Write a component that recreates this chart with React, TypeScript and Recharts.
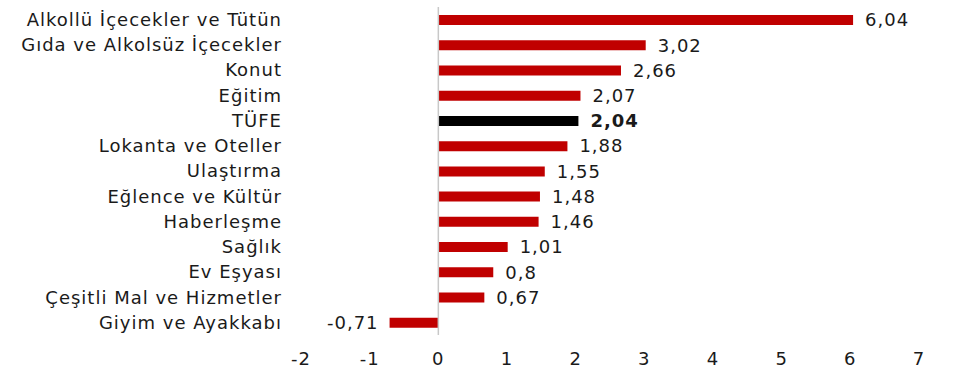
import React from "react";
import { BarChart, Bar, XAxis, YAxis, Cell, LabelList, ReferenceLine } from "recharts";

const categories = [
  "Alkollü İçecekler ve Tütün",
  "Gıda ve Alkolsüz İçecekler",
  "Konut",
  "Eğitim",
  "TÜFE",
  "Lokanta ve Oteller",
  "Ulaştırma",
  "Eğlence ve Kültür",
  "Haberleşme",
  "Sağlık",
  "Ev Eşyası",
  "Çeşitli Mal ve Hizmetler",
  "Giyim ve Ayakkabı",
];
const values = [6.04, 3.02, 2.66, 2.07, 2.04, 1.88, 1.55, 1.48, 1.46, 1.01, 0.8, 0.67, -0.71];
const xTicks = [-2, -1, 0, 1, 2, 3, 4, 5, 6, 7];
const highlight = "TÜFE";

const data = categories.map((name, i) => ({ name, value: values[i] }));

const FONT = "'DejaVu Sans', sans-serif";
const RED = "#c00000";
const BLACK = "#000000";
const TEXT = "#1a1a1a";

const fmt = (v: number) => String(v).replace(".", ",");

const ValueLabel = (props: any) => {
  const { x, y, width, height, value, index } = props;
  const x1 = Number(x);
  const x2 = Number(x) + Number(width);
  const neg = Number(value) < 0;
  const endX = neg ? Math.min(x1, x2) : Math.max(x1, x2);
  const cy = Number(y) + Number(height) / 2;
  const bold = categories[index] === highlight;
  return (
    <text
      x={neg ? endX - 11 : endX + 12}
      y={cy}
      dy="0.35em"
      textAnchor={neg ? "end" : "start"}
      fontFamily={FONT}
      fontSize={18}
      letterSpacing={1}
      fontWeight={bold ? 700 : 400}
      fill={TEXT}
    >
      {fmt(Number(value))}
    </text>
  );
};

const tickStyle = { fontFamily: FONT, fontSize: 18, fill: TEXT, letterSpacing: 1 };

export default function App() {
  return (
    <div style={{ position: "absolute", left: 0, top: 0, background: "#fff" }}>
      <BarChart
        width={960}
        height={392}
        data={data}
        layout="vertical"
        margin={{ top: 7, right: 41, bottom: 17, left: 0 }}
        barCategoryGap={0}
      >
        <XAxis
          type="number"
          domain={[-2, 7]}
          ticks={xTicks}
          axisLine={false}
          tickLine={false}
          tickSize={0}
          tickMargin={17}
          height={40}
          interval={0}
          tick={tickStyle}
        />
        <YAxis
          type="category"
          dataKey="name"
          width={301}
          axisLine={false}
          tickLine={false}
          tickSize={0}
          tickMargin={19}
          interval={0}
          tick={tickStyle}
        />
        <ReferenceLine x={0} stroke="#c8c8c8" strokeWidth={1.5} ifOverflow="extendDomain" />
        <Bar dataKey="value" barSize={10} isAnimationActive={false}>
          {data.map((d, i) => (
            <Cell key={i} fill={d.name === highlight ? BLACK : RED} />
          ))}
          <LabelList dataKey="value" content={ValueLabel} />
        </Bar>
      </BarChart>
    </div>
  );
}
